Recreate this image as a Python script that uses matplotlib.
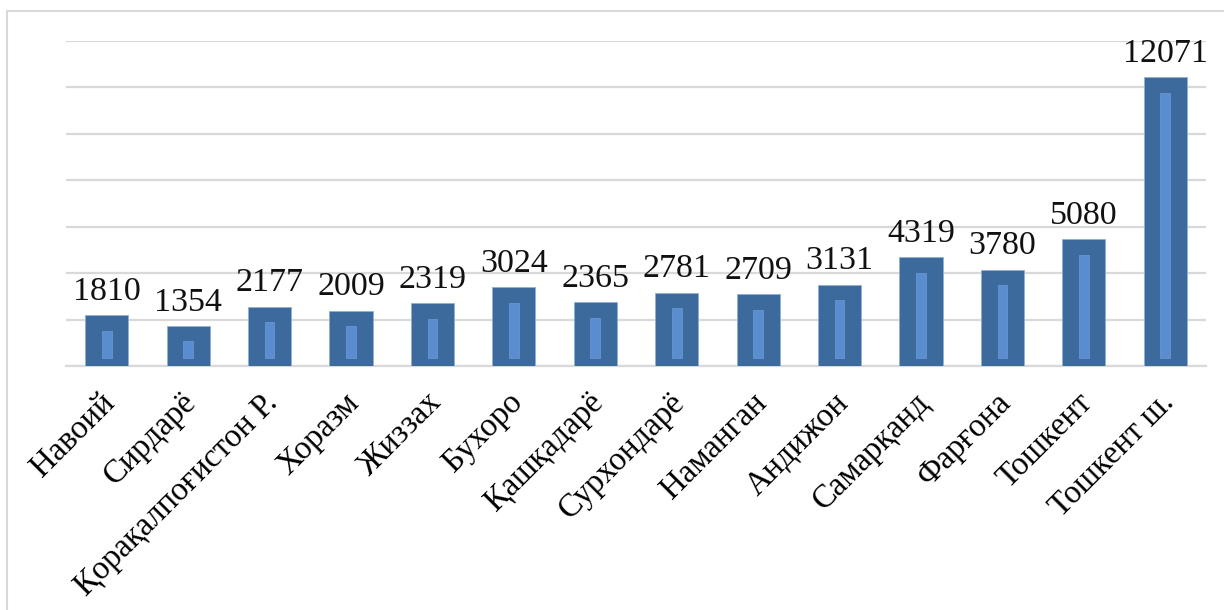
import matplotlib
matplotlib.use("Agg")
import matplotlib.pyplot as plt
import matplotlib.transforms as mtransforms
import numpy as np
from matplotlib.patches import Rectangle

categories = ["Навоий", "Сирдарё", "Қорақалпоғистон Р.", "Хоразм", "Жиззах",
              "Бухоро", "Қашқадарё", "Сурхондарё", "Наманган", "Андижон",
              "Самарқанд", "Фарғона", "Тошкент", "Тошкент ш."]
values = [1810, 1354, 2177, 2009, 2319, 3024, 2365, 2781, 2709, 3131,
          4319, 3780, 5080, 12071]

AXIS_MIN = -375
AXIS_MAX = 13625
MAJOR = 2000

plt.rcParams['font.family'] = ['Liberation Serif', 'DejaVu Serif']

fig = plt.figure(figsize=(12.24, 6.10), dpi=100)
# outer chart border
fig.patches.append(Rectangle((7/1224, -0.1), 1.2, 1.1 - 11/610, transform=fig.transFigure,
                             fill=False, edgecolor='#D9D9D9', linewidth=1.5))

ax = fig.add_axes([66/1224, 1 - 366/610, (1206 - 66)/1224, (366 - 41)/610])
x = np.arange(len(categories))
vals = np.array(values, dtype=float)

ax.bar(x, vals - AXIS_MIN, bottom=AXIS_MIN, width=0.53, color='#3D6A9C',
       edgecolor='#8FB0D8', linewidth=0.6, zorder=3)

# inner lighter stripe (gradient effect)
top_inset = 670
bot_inset = 350
ax.bar(x, vals - top_inset - (AXIS_MIN + bot_inset), bottom=AXIS_MIN + bot_inset,
       width=0.12, color='#5A8DD0', edgecolor='#6E9BD6', linewidth=0.5, zorder=4)

for xi, v in zip(x, values):
    ax.annotate(str(v), (xi, v), xytext=(0, 6), textcoords='offset points',
                ha='center', va='bottom', fontsize=24.5, color='#111111', zorder=5)

ax.set_xlim(-0.5, len(categories) - 0.5)
ax.set_ylim(AXIS_MIN, AXIS_MAX)
ax.set_yticks(np.arange(AXIS_MIN, AXIS_MAX + 1, MAJOR))
ax.yaxis.grid(True, color='#D9D9D9', linewidth=1.6, zorder=0)
ax.set_axisbelow(True)
ax.tick_params(axis='y', length=0, labelleft=False)
ax.tick_params(axis='x', length=0, pad=8)
ax.set_xticks(x)
ax.set_xticklabels(categories, rotation=45, ha='right', va='top',
                   rotation_mode='anchor', fontsize=23.5)
offset = mtransforms.ScaledTranslation(-7/100, -10/100, fig.dpi_scale_trans)
for lbl in ax.get_xticklabels():
    lbl.set_transform(lbl.get_transform() + offset)
for s in ['top', 'right', 'left']:
    ax.spines[s].set_visible(False)
ax.spines['bottom'].set_color('#D9D9D9')
ax.spines['bottom'].set_linewidth(1.6)

fig.savefig('out.png', dpi=100)
